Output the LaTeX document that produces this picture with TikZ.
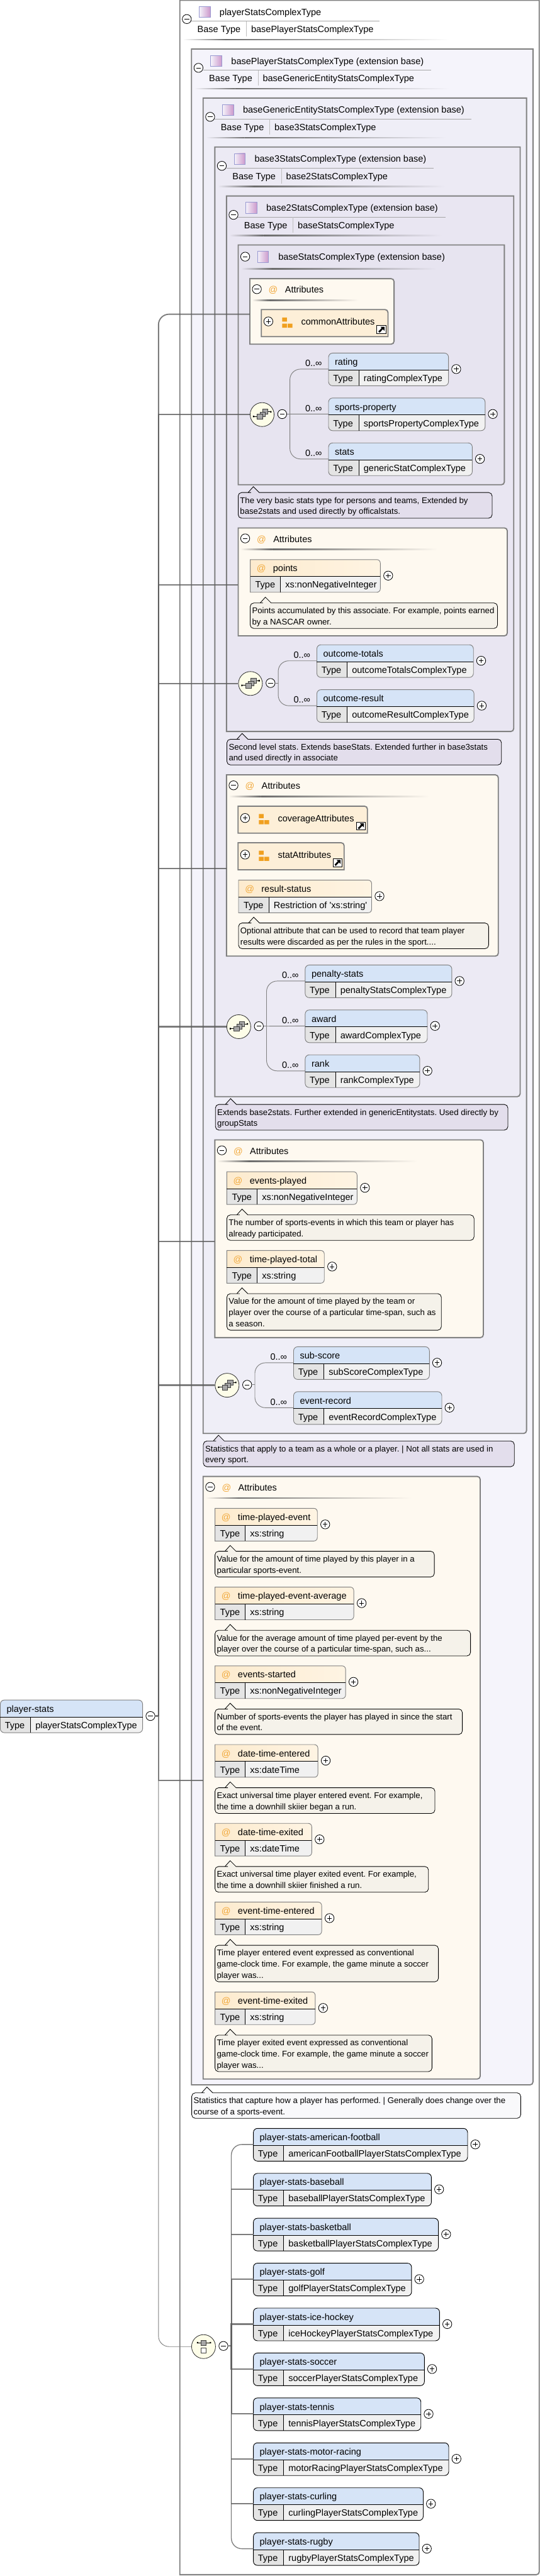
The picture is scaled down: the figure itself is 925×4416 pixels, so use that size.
\documentclass[tikz,border=0pt]{standalone}
\usepackage{fontspec}
\setmainfont{Liberation Sans}
\usetikzlibrary{calc}
\frenchspacing
\definecolor{bA}{HTML}{F5F4FB}
\definecolor{bB}{HTML}{EFEEF7}
\definecolor{bC}{HTML}{ECEAF4}
\definecolor{bD}{HTML}{E9E6F2}
\definecolor{bE}{HTML}{E7E4F0}
\definecolor{attbg}{HTML}{FEF9F0}
\definecolor{docP}{HTML}{E3DEEC}
\definecolor{docA}{HTML}{F5F2EA}
\definecolor{docW}{HTML}{F9F9FB}
\definecolor{hblue}{HTML}{D6E4F7}
\definecolor{hpeach}{HTML}{FDEFD8}
\definecolor{hpeachL}{HTML}{FDEBCE}
\definecolor{hpeachR}{HTML}{FEF4E3}
\definecolor{tcol}{HTML}{E4E4E4}
\definecolor{vcol}{HTML}{F1F1F1}
\definecolor{gline}{HTML}{808080}
\definecolor{cline}{HTML}{5C5C5C}
\definecolor{orangeat}{HTML}{F2A93B}
\definecolor{orangeg}{HTML}{F0A020}
\definecolor{seqbg}{HTML}{FDFDE8}
\tikzset{
 txt/.style={font=\fontsize{15.65}{19}\selectfont,inner sep=0pt,anchor=base west,text=black},
 doct/.style={font=\fontsize{14.25}{19}\selectfont\frenchspacing,inner sep=0pt,anchor=north west,align=left,text=black},
 atsign/.style={font=\fontsize{15.65}{19}\selectfont,inner sep=0pt,anchor=base,text=orangeat},
 boxb/.style={draw=gline,line width=2pt},
 conn/.style={draw=cline,line width=#1,draw opacity=.8},
 conn/.default=2pt,
 thinc/.style={draw=gline,line width=1pt},
 circ/.style={circle,draw=black,fill=white,line width=.9pt,minimum size=15.5pt,inner sep=0pt},
 minusc/.style={circ,path picture={\draw[line width=.8pt] ([xshift=-4pt]path picture bounding box.center) -- ([xshift=4pt]path picture bounding box.center);}},
 plusc/.style={circ,path picture={\draw[line width=.8pt] ([xshift=-4pt]path picture bounding box.center) -- ([xshift=4pt]path picture bounding box.center) ([yshift=-4pt]path picture bounding box.center) -- ([yshift=4pt]path picture bounding box.center);}},
 seqn/.style={circle,draw=black!80,fill=seqbg,line width=.9pt,minimum size=41pt,inner sep=0pt},
 icrect/.style={draw=black!75,fill=black!35,line width=.6pt},
}
% gradient rule
\newcommand{\xsGrad}[4]{% x1,x2,y,bg
 \pgfmathsetmacro\xmid{#1+(#2-#1)*.16}
 \shade[left color=#4,right color=black!58] (#1,#3-.9) rectangle (\xmid,#3+.9);
 \shade[left color=black!58,right color=#4] (\xmid,#3-.9) rectangle (#2,#3+.9);
}
\newcommand{\xsIcon}[2]{% x,y top-left
 \shade[draw=black!45!blue!40!white,line width=.8pt,left color=bA,right color=violet!40!white] (#1,#2) rectangle (#1+19,#2+19);
}
\newcommand{\xsExt}[6]{% L T R B fill unused
 \draw[boxb,fill=#5] (#1,#2) -- (#3,#2) -- (#3,#4-5) .. controls (#3,#4-2.2) and (#3-2.2,#4) .. (#3-5,#4) -- (#1,#4) -- cycle;
}
\newcommand{\xsHead}[9]{% id L T title base divEnd gradEnd bg dummy
 \begin{scope}[shift={(#2,#3)}]
  \node[minusc] (#1m) at (12,32.3) {};
  \xsIcon{33}{11}
  \node[txt] (#1t) at (68,26) {#4};
  \draw[black!35,line width=.8pt] (20,36.3) -- (#6-#2,36.3);
  \node[txt] (#1b) at (30,56) {Base Type};
  \draw[black!25,line width=.8pt] (114,36.3) -- (114,63);
  \node[txt] (#1v) at (122,56) {#5};
  \xsGrad{5}{#7-#2}{68}{#8}
 \end{scope}
}
\newcommand{\xsHeadB}[6]{% id L T title gradEnd bg
 \begin{scope}[shift={(#2,#3)}]
  \node[minusc] (#1m) at (12,20) {};
  \xsIcon{33}{11}
  \node[txt] (#1t) at (68.6,26) {#4};
  \xsGrad{5}{#5-#2}{41}{#6}
 \end{scope}
}
\newcommand{\xsAttrs}[6]{% id L T R B gradEnd
 \draw[boxb,fill=attbg] (#2,#3) -- (#4-5,#3) .. controls (#4-2.2,#3) and (#4,#3+2.2) .. (#4,#3+5) -- (#4,#5-5) .. controls (#4,#5-2.2) and (#4-2.2,#5) .. (#4-5,#5) -- (#2,#5) -- cycle;
 \coordinate (#1c) at ($(#2,#3)!.5!(#2,#5)+(0,4.8)$);
 \begin{scope}[shift={(#2,#3)}]
  \node[minusc] (#1m) at (12,18) {};
  \node[atsign] (#1a) at (40,24.4) {@};
  \node[txt] (#1t) at (60,24.4) {Attributes};
  \xsGrad{4}{#6-#2}{37}{attbg}
 \end{scope}
}
\newcommand{\xsGroup}[6]{% id L T R B name
 \pgfmathsetmacro\ww{#4-#2}\pgfmathsetmacro\hh{#5-#3}
 \begin{scope}[shift={(#2,#3)}]
  \draw[boxb,fill=hpeach] (0,0) -- (\ww-5,0) .. controls (\ww-2.2,0) and (\ww,2.2) .. (\ww,5) -- (\ww,\hh) -- (0,\hh) -- cycle;
  \node[plusc] (#1m) at (12,20.3) {};
  \fill[orangeg] (35.6,13.6) rectangle (43.7,20.6) (35.6,24) rectangle (43.7,31) (45,24) rectangle (53.3,31);
  \node[txt] (#1t) at (68,26.6) {#6};
  \begin{scope}[shift={(\ww-19,\hh-18.7)}]
   \draw[black,fill=white,line width=1pt] (0,0) rectangle (15.4,13.4);
   \draw[black,line width=3pt] (3.6,11) -- (9.6,4.6);
   \fill[black] (6,1.8) -- (13,1.8) -- (13,8.8) -- cycle;
  \end{scope}
 \end{scope}
}
\newcommand{\xsAttrPath}{(0,0) -- (\ww-6,0) .. controls (\ww-2.6,0) and (\ww,2.6) .. (\ww,6) -- (\ww,50) .. controls (\ww,53.4) and (\ww-2.6,56) .. (\ww-6,56) -- (0,56) -- cycle}
\newcommand{\xsAttr}[6]{% id L T R name type
 \pgfmathsetmacro\ww{#4-#2}
 \begin{scope}[shift={(#2,#3)}]
  \begin{scope}
   \clip \xsAttrPath;
   \shade[left color=hpeachL,right color=hpeachR] (0,0) rectangle (\ww,29);
   \fill[tcol] (0,29) rectangle (52,56);
   \fill[vcol] (52,29) rectangle (\ww,56);
  \end{scope}
  \draw[black!50,line width=1pt] \xsAttrPath;
  \draw[black,line width=.9pt] (0,29) -- (\ww,29) (52,29) -- (52,56);
  \node[atsign] (#1a) at (19,20.7) {@};
  \node[txt] (#1n) at (39,20.7) {#5};
  \node[txt] (#1k) at (8.5,48.7) {Type};
  \node[txt] (#1v) at (60,48.7) {#6};
  \node[plusc] (#1p) at (\ww+13.5,27.5) {};
 \end{scope}
}
\newcommand{\xsElem}[7]{% id L T R name type border
 \pgfmathsetmacro\ww{#4-#2}
 \coordinate (#1c) at (#2,#3+27.5);
 \begin{scope}[shift={(#2,#3)}]
  \begin{scope}
   \clip[rounded corners=7pt] (0,0) rectangle (\ww,56);
   \fill[hblue] (0,0) rectangle (\ww,29);
   \fill[tcol] (0,29) rectangle (52,56);
   \fill[vcol] (52,29) rectangle (\ww,56);
  \end{scope}
  \draw[#7,line width=1pt,rounded corners=7pt] (0,0) rectangle (\ww,56);
  \draw[black,line width=.9pt] (0,29) -- (\ww,29) (52,29) -- (52,56);
  \node[txt] (#1n) at (10.7,20.7) {#5};
  \node[txt] (#1k) at (7.7,48.7) {Type};
  \node[txt] (#1v) at (60,48.7) {#6};
 \end{scope}
}
\newcommand{\xsPlus}[3]{% id R T
 \node[plusc] (#1p) at (#2+13.2,#3+27.4) {};
}
\newcommand{\xsOcc}[3]{% id L T
 \node[txt] (#1o) at (#2-40,#3+23) {0..∞};
}
\newcommand{\xsDoc}[7]{% id L T R B fill lines
 \pgfmathsetmacro\ww{#4-#2}\pgfmathsetmacro\hh{#5-#3}
 \begin{scope}[shift={(#2,#3)}]
  \draw[black,line width=.9pt,fill=#6] (0,16) [rounded corners=6pt] -- (0,0) -- (16,0) [sharp corners] -- (17,0) -- (26,-10) -- (36,0) -- (37,0) [rounded corners=6pt] -- (\ww,0) -- (\ww,\hh) -- (0,\hh) -- cycle;
  \node[doct] (#1) at (3,4.7) {#7};
 \end{scope}
}
\newcommand{\xsSeq}[3]{% id cx cy
 \node[seqn] (#1) at (#2,#3) {};
 \begin{scope}[shift={(#2,#3)}]
  \draw[black,line width=.8pt] (-14.9,3.3) -- (-8,3.3) (9.8,-4.7) -- (15.7,-4.7);
  \fill[black] (-15.6,2) rectangle (-13.4,4.6) (13.8,-6) rectangle (16,-3.4);
  \draw[icrect] (0.8,-9.3) rectangle (9.8,-0.7);
  \draw[icrect] (-3.4,-4) rectangle (5.5,3.7);
  \draw[icrect] (-8.5,-0.7) rectangle (1,7.7);
 \end{scope}
 \node[minusc] (#1m) at (#2+34.4,#3-.8) {};
 \coordinate (#1b) at (#2+47.6,#3-.8);
}
\begin{document}
\begin{tikzpicture}[x=1pt,y=-1pt]
\useasboundingbox (0,0) rectangle (925,4416);
\fill[white] (0,0) rectangle (925,4416);
% nested extension boxes
\xsExt{308}{0.5}{923.7}{4413.7}{white}{}
\node[minusc] (h0m) at (320,32.7) {};
\begin{scope}[shift={(308,0)}]
 \xsIcon{33}{11}
 \node[txt] (h0t) at (68,26) {playerStatsComplexType};
 \draw[black!35,line width=.8pt] (20,36.3) -- (342,36.3);
 \node[txt] (h0b) at (30,56) {Base Type};
 \draw[black!25,line width=.8pt] (114,36.3) -- (114,63);
 \node[txt] (h0v) at (122,56) {basePlayerStatsComplexType};
 \xsGrad{5}{462}{68}{white}
\end{scope}
\xsExt{328}{84}{913}{3574}{bA}{}
\xsHead{h1}{328}{84}{basePlayerStatsComplexType (extension base)}{baseGenericEntityStatsComplexType}{738.5}{770}{bA}{}
\xsExt{348}{168}{902}{2457.3}{bB}{}
\xsHead{h2}{348}{168}{baseGenericEntityStatsComplexType (extension base)}{base3StatsComplexType}{808}{765}{bB}{}
\xsExt{368}{252}{891}{1880}{bC}{}
\xsHead{h3}{368}{252}{base3StatsComplexType (extension base)}{base2StatsComplexType}{743}{763}{bC}{}
\xsExt{388}{336}{880}{1254}{bD}{}
\xsHead{h4}{388}{336}{base2StatsComplexType (extension base)}{baseStatsComplexType}{763.6}{757}{bD}{}
\xsExt{408}{420}{864}{831}{bE}{}
\xsHeadB{h5}{408}{420}{baseStatsComplexType (extension base)}{748}{bE}
% Level 5
\xsAttrs{aA}{428}{477.7}{675}{590}{614}
\xsGroup{gA}{447.7}{530.7}{664.6}{577}{commonAttributes}
\xsSeq{sA}{449}{710.7}
\xsOcc{eA}{562.8}{605.3}\xsElem{eA}{562.8}{605.3}{768.3}{rating}{ratingComplexType}{black!50}\xsPlus{eA}{768.3}{605.3}
\xsOcc{eB}{562.8}{682.3}\xsElem{eB}{562.8}{682.3}{831}{sports-property}{sportsPropertyComplexType}{black!50}\xsPlus{eB}{831}{682.3}
\xsOcc{eC}{562.8}{759.3}\xsElem{eC}{562.8}{759.3}{809}{stats}{genericStatComplexType}{black!50}\xsPlus{eC}{809}{759.3}
\xsDoc{dA}{408}{844.3}{843}{888.3}{docP}{\strut The very basic stats type for persons and teams, Extended by\\\strut base2stats and used directly by officalstats.}
% Level 4
\xsAttrs{aB}{408}{905}{869}{1090}{750}
\xsAttr{tA}{428.6}{959.3}{651.5}{points}{xs:nonNegativeInteger}
\xsDoc{dB}{428.6}{1033.7}{852.3}{1077.3}{docA}{\strut Points accumulated by this associate. For example, points earned\\\strut by a NASCAR owner.}
\xsSeq{sB}{429}{1171.7}
\xsOcc{eD}{542.8}{1105.3}\xsElem{eD}{542.8}{1105.3}{811}{outcome-totals}{outcomeTotalsComplexType}{black!50}\xsPlus{eD}{811}{1105.3}
\xsOcc{eE}{542.8}{1182.3}\xsElem{eE}{542.8}{1182.3}{812}{outcome-result}{outcomeResultComplexType}{black!50}\xsPlus{eE}{812}{1182.3}
\xsDoc{dC}{388.7}{1267.3}{859}{1311.3}{docP}{\strut Second level stats. Extends baseStats. Extended further in base3stats\\\strut and used directly in associate}
% Level 3
\xsAttrs{aC}{388}{1328.3}{853.6}{1639}{736}
\xsGroup{gB}{407.8}{1382}{629.4}{1428.3}{coverageAttributes}
\xsGroup{gC}{407.8}{1444.7}{589.5}{1491}{statAttributes}
\xsAttr{tB}{408.6}{1508.7}{636.6}{result-status}{Restriction of \textquotesingle xs:string\textquotesingle}
\xsDoc{dD}{408.6}{1582.3}{837}{1626.3}{docA}{\strut Optional attribute that can be used to record that team player\\\strut results were discarded as per the rules in the sport....}
\xsSeq{sC}{409}{1760}
\xsOcc{eF}{522.8}{1654.3}\xsElem{eF}{522.8}{1654.3}{774}{penalty-stats}{penaltyStatsComplexType}{black!50}\xsPlus{eF}{774}{1654.3}
\xsOcc{eG}{522.8}{1731.3}\xsElem{eG}{522.8}{1731.3}{732}{award}{awardComplexType}{black!50}\xsPlus{eG}{732}{1731.3}
\xsOcc{eH}{522.8}{1808.3}\xsElem{eH}{522.8}{1808.3}{719}{rank}{rankComplexType}{black!50}\xsPlus{eH}{719}{1808.3}
\xsDoc{dE}{369}{1893.3}{870}{1937.3}{docP}{\strut Extends base2stats. Further extended in genericEntitystats. Used directly by\\\strut groupStats}
% Level 2
\xsAttrs{aD}{368}{1954}{828}{2293}{715}
\xsAttr{tC}{388.6}{2008.7}{611.6}{events-played}{xs:nonNegativeInteger}
\xsDoc{dF}{388.6}{2082.7}{812}{2126.3}{docA}{\strut The number of sports-events in which this team or player has\\\strut already participated.}
\xsAttr{tD}{388.6}{2143.7}{555.5}{time-played-total}{xs:string}
\xsDoc{dG}{388.6}{2217.7}{756}{2280.3}{docA}{\strut Value for the amount of time played by the team or\\\strut player over the course of a particular time-span, such as\\\strut a season.}
\xsSeq{sD}{389}{2374.7}
\xsOcc{eI}{502.9}{2308.7}\xsElem{eI}{502.9}{2308.7}{735.6}{sub-score}{subScoreComplexType}{black!50}\xsPlus{eI}{735.6}{2308.7}
\xsOcc{eJ}{502.9}{2385.7}\xsElem{eJ}{502.9}{2385.7}{756.8}{event-record}{eventRecordComplexType}{black!50}\xsPlus{eJ}{756.8}{2385.7}
\xsDoc{dH}{348.3}{2470.3}{881}{2514.3}{docP}{\strut Statistics that apply to a team as a whole or a player. | Not all stats are used in\\\strut every sport.}
% Level 1
\xsAttrs{aE}{348}{2531}{822.6}{3564}{705}
\xsAttr{tE}{368.3}{2585.7}{543.6}{time-played-event}{xs:string}
\xsDoc{dI}{368.3}{2659.3}{744}{2703.3}{docA}{\strut Value for the amount of time played by this player in a\\\strut particular sports-event.}
\xsAttr{tF}{368.3}{2720.7}{606}{time-played-event-average}{xs:string}
\xsDoc{dJ}{368.3}{2794.7}{806}{2838.7}{docA}{\strut Value for the average amount of time played per-event by the\\\strut player over the course of a particular time-span, such as...}
\xsAttr{tG}{368.3}{2855.7}{592}{events-started}{xs:nonNegativeInteger}
\xsDoc{dK}{368.3}{2929.7}{792}{2973.3}{docA}{\strut Number of sports-events the player has played in since the start\\\strut of the event.}
\xsAttr{tH}{368.3}{2990.7}{544.5}{date-time-entered}{xs:dateTime}
\xsDoc{dL}{368.3}{3064.7}{745}{3108.7}{docA}{\strut Exact universal time player entered event. For example,\\\strut the time a downhill skiier began a run.}
\xsAttr{tI}{368.3}{3125.7}{534}{date-time-exited}{xs:dateTime}
\xsDoc{dM}{368.3}{3199.7}{734}{3243.7}{docA}{\strut Exact universal time player exited event. For example,\\\strut the time a downhill skiier finished a run.}
\xsAttr{tJ}{368.3}{3260.7}{551}{event-time-entered}{xs:string}
\xsDoc{dN}{368.3}{3334.7}{751}{3397.3}{docA}{\strut Time player entered event expressed as conventional\\\strut game-clock time. For example, the game minute a soccer\\\strut player was...}
\xsAttr{tK}{368.3}{3414.7}{540}{event-time-exited}{xs:string}
\xsDoc{dO}{368.3}{3488.7}{740}{3551.3}{docA}{\strut Time player exited event expressed as conventional\\\strut game-clock time. For example, the game minute a soccer\\\strut player was...}
\xsDoc{dP}{328.4}{3587.7}{892}{3631.3}{docW}{\strut Statistics that capture how a player has performed. | Generally does change over the\\\strut course of a sports-event.}
% choice children
\xsElem{fA}{434}{3648.7}{801}{player-stats-american-football}{americanFootballPlayerStatsComplexType}{black}\xsPlus{fA}{801}{3648.7}
\xsElem{fB}{434}{3725.7}{739}{player-stats-baseball}{baseballPlayerStatsComplexType}{black}\xsPlus{fB}{739}{3725.7}
\xsElem{fC}{434}{3802.7}{751}{player-stats-basketball}{basketballPlayerStatsComplexType}{black}\xsPlus{fC}{751}{3802.7}
\xsElem{fD}{434}{3879.7}{705}{player-stats-golf}{golfPlayerStatsComplexType}{black}\xsPlus{fD}{705}{3879.7}
\xsElem{fE}{434}{3956.7}{753}{player-stats-ice-hockey}{iceHockeyPlayerStatsComplexType}{black}\xsPlus{fE}{753}{3956.7}
\xsElem{fF}{434}{4033.7}{727}{player-stats-soccer}{soccerPlayerStatsComplexType}{black}\xsPlus{fF}{727}{4033.7}
\xsElem{fG}{434}{4110.7}{721}{player-stats-tennis}{tennisPlayerStatsComplexType}{black}\xsPlus{fG}{721}{4110.7}
\xsElem{fH}{434}{4187.7}{768.7}{player-stats-motor-racing}{motorRacingPlayerStatsComplexType}{black}\xsPlus{fH}{768.7}{4187.7}
\xsElem{fI}{434}{4264.7}{725}{player-stats-curling}{curlingPlayerStatsComplexType}{black}\xsPlus{fI}{725}{4264.7}
\xsElem{fJ}{434}{4341.7}{718}{player-stats-rugby}{rugbyPlayerStatsComplexType}{black}\xsPlus{fJ}{718}{4341.7}
% choice node
\node[seqn] (ch) at (348.7,4022.7) {};
\begin{scope}[shift={(348.7,4022.7)}]
 \draw[black,line width=.8pt] (-10.5,-6.7) -- (11.5,-6.7);
 \fill[black] (-11.5,-8) rectangle (-9.3,-5.4) (10.6,-8) rectangle (12.8,-5.4);
 \draw[icrect] (-4.5,-11) rectangle (4.5,-2);
 \draw[black!75,fill=white,line width=.7pt] (-4.3,2) rectangle (4.5,10.5);
\end{scope}
\node[minusc] (chm) at (382.7,4021.6) {};
\coordinate (chb) at (396.3,4021.6);
% root
\xsElem{root}{0.5}{2914.3}{244.3}{player-stats}{playerStatsComplexType}{black!50}
\node[minusc] (rootm) at (257.7,2941.7) {};
\coordinate (tj) at (271.5,2941.7);
% connectors: sequences
\foreach \s/\f/\m/\l in {sA/eA/eB/eC,sC/eF/eG/eH}{
 \draw[thinc] (\s m.east) -- (\s b);
 \draw[thinc,rounded corners=18pt] (\s b) |- (\f c);
 \draw[thinc] (\s b) -- (\m c);
 \draw[thinc,rounded corners=18pt] (\s b) |- (\l c);
}
\foreach \s/\f/\l in {sB/eD/eE,sD/eI/eJ}{
 \draw[thinc] (\s m.east) -- (\s b);
 \draw[thinc,rounded corners=18pt] (\s b) |- (\f c);
 \draw[thinc,rounded corners=18pt] (\s b) |- (\l c);
}
% connectors: choice
\draw[conn=2.6pt] (chm.east) -- (chb);
\draw[conn=1.4pt,rounded corners=18pt] (chb) |- (fAc);
\draw[conn=1.4pt,rounded corners=18pt] (chb) |- (fJc);
\draw[conn=1.7pt] (chb) |- (fBc);
\draw[conn=1.7pt] (chb) |- (fIc);
\draw[conn=1.9pt] (chb) |- (fCc);
\draw[conn=1.9pt] (chb) |- (fHc);
\draw[conn=2.1pt] (chb) |- (fDc);
\draw[conn=2.1pt] (chb) |- (fGc);
\draw[conn=2.4pt] (chb) |- (fEc);
\draw[conn=2.4pt] (chb) |- (fFc);
% connectors: main trunk
\draw[conn=2.6pt] (rootm.east) -- (tj);
\draw[conn=2pt,rounded corners=18pt] (tj) |- (aAc);
\draw[conn=2.1pt] (tj) |- (sA.west);
\draw[conn=2.2pt] (tj) |- (aBc);
\draw[conn=2.3pt] (tj) |- (sB.west);
\draw[conn=2.3pt] (tj) |- (aCc);
\draw[conn=2.4pt] (tj) |- (sC.west);
\draw[conn=2.4pt] (tj) |- (aDc);
\draw[conn=2.5pt] (tj) |- (sD.west);
\draw[conn=1.8pt] (tj) |- (aEc);
\draw[draw=gline,line width=1pt,rounded corners=18pt] (tj) |- (ch.west);
\end{tikzpicture}
\end{document}
